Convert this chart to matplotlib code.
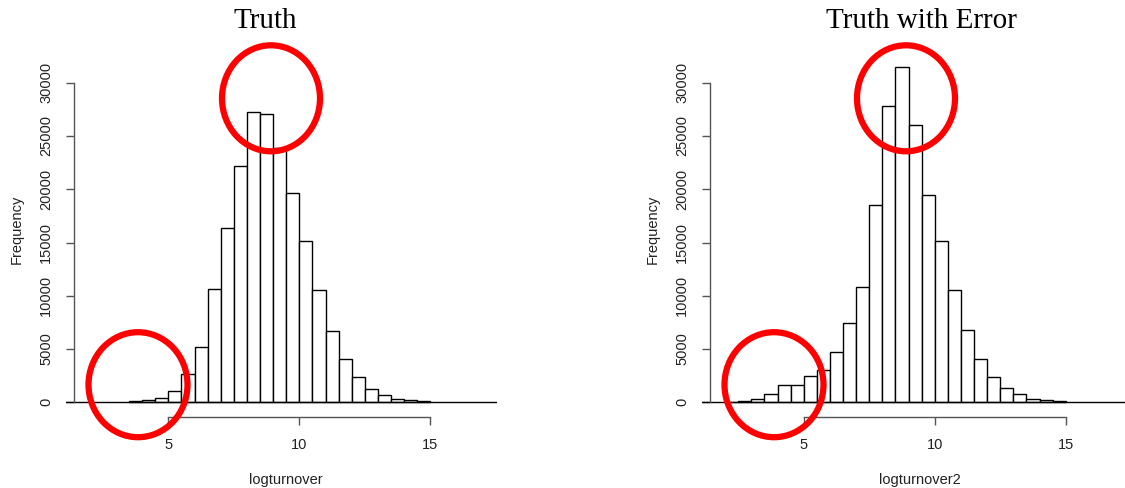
import numpy as np
import matplotlib
matplotlib.use("Agg")
import matplotlib.pyplot as plt
from matplotlib.patches import Ellipse

# histogram bins (width 0.5) and counts
truth_edges = np.arange(3.5, 15.01, 0.5)
truth_counts = [100, 200, 400, 1100, 2700, 5150, 10650, 16400, 22150, 27250,
                27050, 23900, 19600, 15100, 10500, 6650, 4050, 2350, 1250,
                650, 330, 180, 90]

error_edges = np.arange(2.0, 15.01, 0.5)
error_counts = [60, 150, 340, 750, 1600, 1600, 2450, 3050, 4700, 7400, 10800,
                18500, 27800, 31500, 26000, 19450, 15100, 10550, 6750, 4050,
                2350, 1300, 750, 340, 190, 90]

titles = ["Truth", "Truth with Error"]
xlabels = ["logturnover", "logturnover2"]
yticks = [0, 5000, 10000, 15000, 20000, 25000, 30000]
xticks = [5, 10, 15]

W, H = 1125, 488
PX_PER_UNIT = 26.2
PX_PER_COUNT = 319.6 / 30000

fig = plt.figure(figsize=(W / 100, H / 100), dpi=100)
fig.patch.set_facecolor("white")


def add_hist(x5_px, left_px, right_px, yaxis_px, edges, counts, title, xlabel,
             title_x, xlabel_x, ylabel_x):
    top_px, bottom_px, zero_px = 55, 417, 402.3
    ax = fig.add_axes([left_px / W, 1 - bottom_px / H,
                       (right_px - left_px) / W, (bottom_px - top_px) / H])
    x0 = 5 - (x5_px - left_px) / PX_PER_UNIT
    x1 = 5 + (right_px - x5_px) / PX_PER_UNIT
    y0 = -(bottom_px - zero_px) / PX_PER_COUNT
    y1 = (zero_px - top_px) / PX_PER_COUNT
    ax.set_xlim(x0, x1)
    ax.set_ylim(y0, y1)
    ax.patch.set_alpha(0)

    ax.bar(edges[:-1], counts, width=0.5, align="edge", facecolor="white",
           edgecolor="black", linewidth=1.0)
    ax.axhline(0, color="black", lw=1.0)

    for s in ["top", "right"]:
        ax.spines[s].set_visible(False)
    ax.spines["left"].set_position(("data", 5 - (x5_px - yaxis_px) / PX_PER_UNIT))
    ax.spines["left"].set_bounds(0, 30000)
    ax.spines["bottom"].set_bounds(5, 15)
    for s in ["left", "bottom"]:
        ax.spines[s].set_color("#555555")
        ax.spines[s].set_linewidth(1.0)

    ax.set_xticks(xticks)
    ax.set_yticks(yticks)
    ax.set_yticklabels([str(v) for v in yticks], rotation=90, va="center")
    ax.tick_params(length=6, width=1.0, color="#555555", pad=9,
                   labelsize=10.5, labelcolor="#222222")
    for lab in ax.get_xticklabels() + ax.get_yticklabels():
        lab.set_family("Liberation Sans")

    fig.text(title_x / W, 1 - 21 / H, title, ha="center", va="center",
             family="Liberation Serif", fontsize=21)
    fig.text(xlabel_x / W, 1 - 480 / H, xlabel,
             ha="center", va="center", family="Liberation Sans",
             fontsize=10.5, color="#222222")
    fig.text(ylabel_x / W, 1 - 229 / H, "Frequency", rotation=90,
             ha="center", va="center", family="Liberation Sans",
             fontsize=10.5, color="#222222")
    return ax


add_hist(168.3, 66, 497, 74, truth_edges, truth_counts,
         titles[0], xlabels[0], 265, 286, 17)
add_hist(803.7, 702, 1132, 710, error_edges, error_counts,
         titles[1], xlabels[1], 921, 920, 653)

# red highlight circles (figure pixel positions)
circles = [(271, 98.3, 49, 53), (138, 384.7, 49.5, 52.5),
           (906, 98.3, 49, 53), (774, 384.7, 49.5, 52.5)]
for cx, cy, rx, ry in circles:
    e = Ellipse((cx / W, 1 - cy / H), 2 * rx / W, 2 * ry / H,
                transform=fig.transFigure, fill=False, edgecolor="#ff0000",
                linewidth=4.5, zorder=10)
    fig.add_artist(e)

fig.savefig("out.png", dpi=100)
